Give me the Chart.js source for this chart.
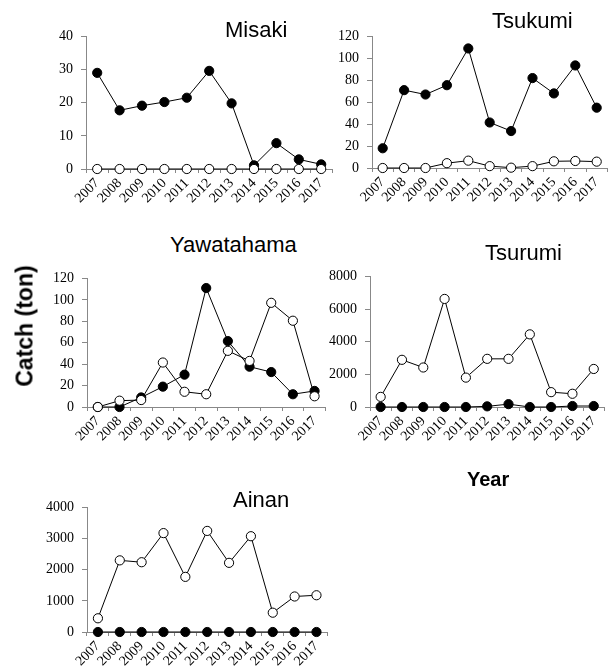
<!DOCTYPE html>
<html>
<head>
<meta charset="utf-8">
<title>Catch by site</title>
<script src="https://cdn.jsdelivr.net/npm/chart.js@4.4.1/dist/chart.umd.min.js"></script>
<style>
    body {
        margin: 0;
        padding: 0;
        background: #fff;
        overflow: hidden;
    }

    #page {
        position: relative;
        width: 613px;
        height: 669px;
        background: #fff;
    }

    canvas {
        position: absolute;
    }

    .site {
        position: absolute;
        font-family: "Liberation Sans", Arial, sans-serif;
        font-size: 22px;
        line-height: 22px;
        color: #000;
        white-space: nowrap;
    }

    .axis-title {
        position: absolute;
        font-family: "Liberation Sans", Arial, sans-serif;
        font-weight: bold;
        color: #000;
        white-space: nowrap;
    }
</style>
</head>
<body>
<div id="page">
    <canvas id="misaki"></canvas>
    <canvas id="tsukumi"></canvas>
    <canvas id="yawatahama"></canvas>
    <canvas id="tsurumi"></canvas>
    <canvas id="ainan"></canvas>

    <div class="site" style="left:225px; top:19px">Misaki</div>
    <div class="site" style="left:492px; top:10px">Tsukumi</div>
    <div class="site" style="left:170px; top:234px">Yawatahama</div>
    <div class="site" style="left:485px; top:242px">Tsurumi</div>
    <div class="site" style="left:233px; top:489px">Ainan</div>

    <div class="axis-title" style="left:25px; top:326px; font-size:23px; transform: translate(-50%, -50%) rotate(-90deg)">Catch (ton)</div>
    <div class="axis-title" style="left:467px; top:469px; font-size:20px; line-height:20px">Year</div>
</div>

<script>
    // years on the x axis
    const years = ["2007", "2008", "2009", "2010", "2011", "2012", "2013", "2014", "2015", "2016", "2017"];

    // filled circles / open circles, catch in tons
    const misakiFilled = [29, 17.7, 19.1, 20.2, 21.5, 29.6, 19.8, 1.1, 7.8, 2.9, 1.4];
    const misakiOpen = [0, 0, 0, 0, 0, 0, 0, 0, 0, 0, 0];

    const tsukumiFilled = [18, 71, 67, 75.5, 109, 41.5, 33.7, 82, 68, 93.5, 55];
    const tsukumiOpen = [0, 0, 0, 4.4, 6.7, 1.7, 0.3, 1.7, 6.1, 6.4, 5.8];

    const yawatahamaFilled = [0, 0, 8.9, 19, 30.2, 111, 61.5, 37.6, 32.6, 11.9, 15];
    const yawatahamaOpen = [0, 5.9, 6.5, 41.5, 14.2, 11.9, 52.4, 43, 97.2, 80.5, 10];

    const tsurumiFilled = [0, 0, 0, 0, 0, 40, 175, 0, 0, 60, 60];
    const tsurumiOpen = [620, 2890, 2420, 6620, 1800, 2950, 2950, 4450, 910, 810, 2330];

    const ainanFilled = [0, 0, 0, 0, 0, 0, 0, 0, 0, 0, 0];
    const ainanOpen = [440, 2300, 2240, 3175, 1770, 3245, 2220, 3075, 620, 1140, 1180];

    const YW = 50;   // y axis box width
    const XH = 45;   // x axis box height
    const PAD_TOP = 10;
    const PAD_RIGHT = 4;

    function panel(id, area, yMax, yStep, filled, open) {
        const cv = document.getElementById(id);
        const w = area.r - area.l + YW + PAD_RIGHT;
        const h = area.b - area.t + PAD_TOP + XH;
        cv.width = w;
        cv.height = h;
        cv.style.left = (area.l - YW) + "px";
        cv.style.top = (area.t - PAD_TOP) + "px";

        new Chart(cv, {
            type: "line",
            data: {
                labels: years,
                datasets: [
                    {
                        label: "open",
                        data: open,
                        borderColor: "#000",
                        backgroundColor: "#fff",
                        pointBackgroundColor: "#fff",
                        pointBorderColor: "#000",
                        clip: false
                    },
                    {
                        label: "filled",
                        data: filled,
                        borderColor: "#000",
                        backgroundColor: "#000",
                        pointBackgroundColor: "#000",
                        pointBorderColor: "#000",
                        clip: false
                    }
                ]
            },
            options: {
                responsive: false,
                animation: false,
                events: [],
                layout: {
                    padding: {top: PAD_TOP, right: PAD_RIGHT, left: 0, bottom: 0}
                },
                plugins: {
                    legend: {display: false},
                    tooltip: {enabled: false}
                },
                elements: {
                    line: {borderWidth: 1, tension: 0, fill: false},
                    point: {radius: 4.6, borderWidth: 1}
                },
                scales: {
                    x: {
                        type: "category",
                        offset: true,
                        grid: {offset: true, drawOnChartArea: false, tickLength: 4, color: "#888"},
                        border: {color: "#888", width: 1},
                        ticks: {
                            autoSkip: false,
                            maxRotation: 45,
                            minRotation: 45,
                            padding: 2,
                            color: "#000",
                            font: {family: "'Liberation Serif', 'Times New Roman', serif", size: 14}
                        },
                        afterFit: s => { s.height = XH; }
                    },
                    y: {
                        min: 0,
                        max: yMax,
                        grid: {drawOnChartArea: false, tickLength: 5, color: "#888"},
                        border: {color: "#888", width: 1},
                        ticks: {
                            stepSize: yStep,
                            padding: 8,
                            color: "#000",
                            font: {family: "'Liberation Serif', 'Times New Roman', serif", size: 14},
                            callback: v => String(v)
                        },
                        afterFit: s => { s.width = YW; }
                    }
                }
            }
        });
    }

    panel("misaki", {l: 86, t: 30, r: 334, b: 169}, 40, 10, misakiFilled, misakiOpen);
    panel("tsukumi", {l: 372, t: 30, r: 609, b: 168}, 120, 20, tsukumiFilled, tsukumiOpen);
    panel("yawatahama", {l: 87, t: 272, r: 327, b: 407}, 120, 20, yawatahamaFilled, yawatahamaOpen);
    panel("tsurumi", {l: 370, t: 270, r: 606, b: 407}, 8000, 2000, tsurumiFilled, tsurumiOpen);
    panel("ainan", {l: 87, t: 501, r: 329, b: 632}, 4000, 1000, ainanFilled, ainanOpen);
</script>
</body>
</html>
